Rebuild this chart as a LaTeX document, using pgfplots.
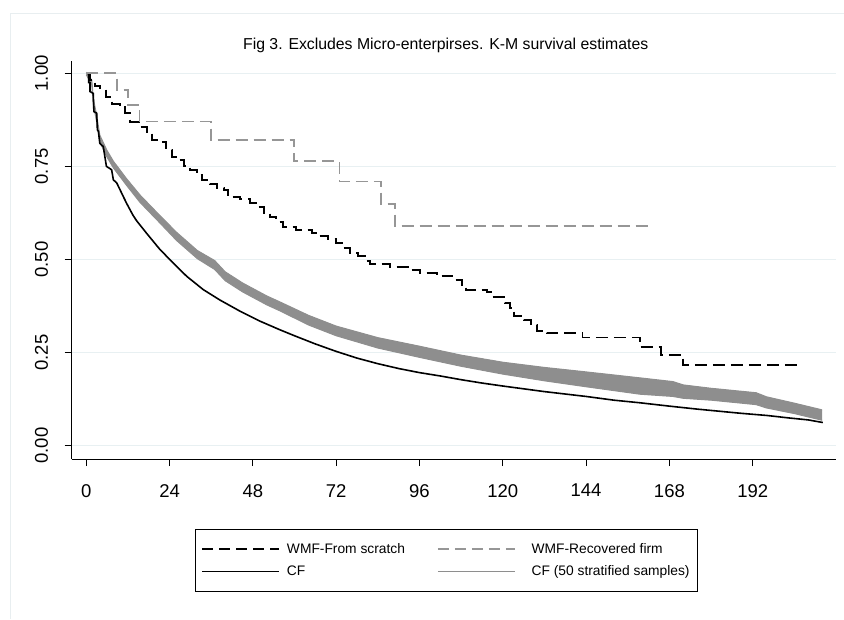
\documentclass[border=0pt]{standalone}
\usepackage{fontspec}
\setmainfont{Liberation Sans}
\usepackage{pgfplots}
\pgfplotsset{compat=1.18}
\usepgfplotslibrary{fillbetween}
\definecolor{gridc}{RGB}{232,240,242}
\definecolor{framec}{RGB}{232,238,240}
\definecolor{dgray}{RGB}{150,150,150}
\definecolor{bgray}{RGB}{142,142,142}

\begin{document}
\begin{tikzpicture}
\begin{axis}[
  scale only axis, width=764.3pt, height=398pt,
  xmin=-4.2, xmax=216, ymin=-0.036, ymax=1.033,
  axis x line*=bottom, axis y line*=left,
  axis line style={black, line width=0.9pt, -},
  xtick={0,24,...,192}, ytick={0,0.25,0.5,0.75,1},
  ymajorgrids, grid style={gridc, line width=1.5pt},
  tick style={black, line width=0.9pt}, tick align=outside, major tick length=7pt,
  /pgf/number format/assume math mode=true,
  ticklabel style={font=\fontsize{18.5}{22}\selectfont},
  xticklabel style={inner ysep=18pt},
  yticklabel style={rotate=90, anchor=south, inner ysep=16.5pt, /pgf/number format/fixed, /pgf/number format/fixed zerofill, /pgf/number format/precision=2},
  legend columns=2,
  legend cell align=left,
  legend style={at={(0.1613,-0.1759)}, anchor=north west, draw=black, line width=0.8pt,
    font=\fontsize{13.8}{16}\selectfont, inner xsep=6pt, inner ysep=12pt, row sep=7pt,
    /tikz/column 1/.style={column sep=5pt},
    /tikz/column 2/.style={column sep=30pt},
    /tikz/column 3/.style={column sep=14pt}},
  legend image code/.code={\draw[#1] (0pt,0pt) -- (77pt,0pt);},
]
\coordinate (SW) at (rel axis cs:0,0);

% CF (50 stratified samples): band (upper and lower edge)
\addplot[name path=U, draw=bgray, line width=1pt, forget plot] coordinates {
(0,1.003) (1.6,0.981) (2.0,0.933) (3.0,0.887) (3.9,0.834) (5.9,0.794) (7.8,0.764)
(11.6,0.717) (15.5,0.673) (21.2,0.618) (26,0.573) (32,0.524) (37,0.497) (40,0.467)
(45,0.437) (52,0.402) (56,0.385) (64,0.350) (72,0.321) (84,0.290) (96,0.267)
(108,0.243) (120,0.224) (132,0.210) (144,0.198) (159.5,0.182) (169,0.172) (172,0.163)
(180,0.154) (193,0.142) (196,0.131) (204,0.114) (212,0.096)};
\addplot[name path=L, draw=bgray, line width=1pt, forget plot] coordinates {
(0,0.996) (1.6,0.969) (2.0,0.917) (3.0,0.869) (3.9,0.816) (5.9,0.776) (7.8,0.746)
(11.6,0.699) (15.5,0.653) (21.2,0.598) (26,0.551) (32,0.502) (37,0.473) (40,0.443)
(45,0.413) (52,0.378) (56,0.361) (64,0.324) (72,0.295) (84,0.262) (96,0.237)
(108,0.213) (120,0.192) (132,0.174) (144,0.158) (159.5,0.138) (169,0.132) (172,0.127)
(180,0.122) (193,0.110) (196,0.101) (204,0.086) (212,0.068)};
\addplot[bgray, forget plot] fill between[of=U and L];

% CF
\addplot[black, line width=1.6pt, forget plot] coordinates {
(0,1.0) (0.7,1.0) (0.7,0.975) (1.07,0.975) (1.07,0.951) (2.0,0.946) (2.2,0.897)
(3.0,0.893) (3.2,0.848) (3.5,0.844) (3.9,0.812) (4.9,0.803) (5.8,0.750) (7.3,0.741)
(7.8,0.714) (8.8,0.705) (10.2,0.678) (11.6,0.651) (13.5,0.618) (14.5,0.604)
(17.4,0.570) (21.2,0.527) (25.1,0.490) (28.9,0.455) (33.7,0.419) (38.5,0.391)
(44.3,0.361) (50.1,0.334) (55.8,0.311) (60,0.295) (66,0.273) (72,0.253) (78,0.235)
(84,0.220) (90,0.207) (96,0.196) (102,0.187) (108,0.177) (114,0.168) (120,0.160)
(132,0.145) (144,0.132) (152,0.122) (159.5,0.115) (168,0.106) (176,0.098)
(188.3,0.087) (196,0.081) (202.7,0.074) (208,0.069) (212.2,0.062)};

% WMF-From scratch
\addplot[const plot, black, line width=1.6pt, dash pattern=on 12pt off 6pt, forget plot] coordinates {
(0,1.0) (1.07,0.982) (2.5,0.966) (3.9,0.960) (5.7,0.937) (7.4,0.918) (9.7,0.909)
(11.1,0.893) (12.6,0.869) (15.5,0.856) (17.5,0.840) (18.9,0.821) (21.2,0.816)
(23.0,0.794) (24.7,0.775) (26.4,0.767) (28.1,0.751) (29.9,0.740) (31.9,0.727)
(33.3,0.714) (35.6,0.703) (37.7,0.692) (39.7,0.687) (40.8,0.668) (44.3,0.662)
(47.2,0.652) (49.5,0.641) (51.2,0.625) (52.9,0.614) (54.7,0.601) (56.7,0.587)
(60.4,0.579) (65.0,0.571) (66.8,0.563) (69.6,0.555) (71.9,0.544) (73.7,0.531)
(76.0,0.517) (78.3,0.509) (80.3,0.496) (81.7,0.488) (87.5,0.480) (93.3,0.472)
(96.1,0.464) (101.0,0.456) (105.4,0.445) (108.2,0.431) (109.4,0.418) (115.4,0.413)
(116.9,0.399) (120.6,0.383) (122.1,0.370) (123.2,0.348) (126.1,0.338) (128.1,0.324)
(129.9,0.308) (132.7,0.302) (143.0,0.290) (159.5,0.265) (165.5,0.244) (171.9,0.217)
(205.0,0.217)};

% WMF-Recovered firm
\addplot[const plot, dgray, line width=1.6pt, dash pattern=on 12pt off 6pt, forget plot] coordinates {
(0,1.0) (8.8,0.955) (12.0,0.915) (15.3,0.870) (35.9,0.821) (59.9,0.764) (72.9,0.709)
(84.9,0.649) (88.9,0.590) (161.8,0.590)};

\addlegendimage{black, line width=1.6pt, dash pattern=on 11pt off 6pt}
\addlegendentry{WMF-From scratch}
\addlegendimage{dgray, line width=1.6pt, dash pattern=on 11pt off 6pt}
\addlegendentry{WMF-Recovered firm}
\addlegendimage{black, line width=1.6pt}
\addlegendentry{CF}
\addlegendimage{bgray, line width=1.6pt}
\addlegendentry{CF (50 stratified samples)\hspace{18pt}}
\end{axis}
\draw[framec, line width=1pt] (SW) ++(-60.7pt,-160pt) -- ++(0pt,605pt) -- ++(833.3pt,0pt);
\path (SW) ++(374pt,414pt) node[font=\fontsize{15.8}{18}\selectfont] {Fig 3. Excludes Micro-enterpirses. K-M survival estimates};
\pgfresetboundingbox
\useasboundingbox (SW) ++(-71.7pt,-160pt) rectangle ++(844pt,619pt);
\end{tikzpicture}
\end{document}
